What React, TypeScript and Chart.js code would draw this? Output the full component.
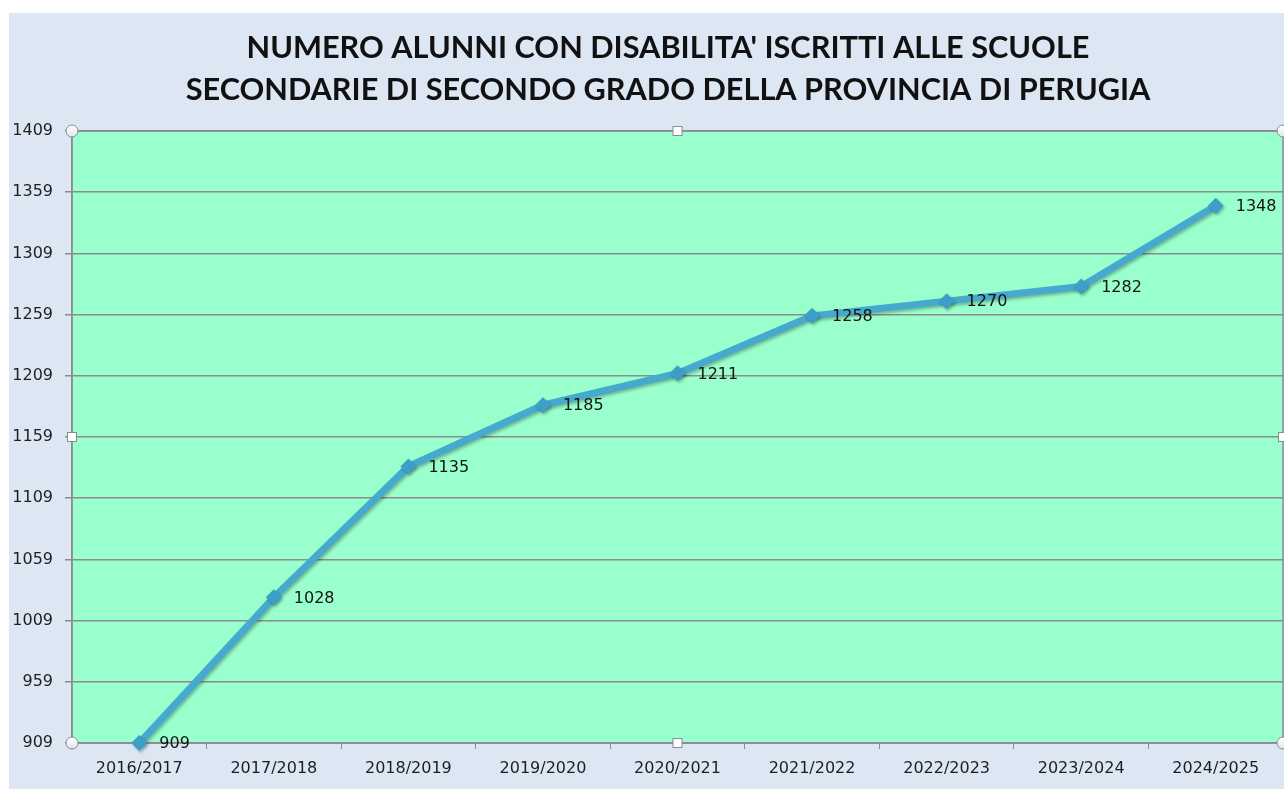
import React, { useEffect, useRef } from 'react';
import { Chart, registerables } from 'chart.js';

Chart.register(...registerables);

const TITLE_LINES = [
  "NUMERO ALUNNI CON DISABILITA' ISCRITTI ALLE SCUOLE",
  'SECONDARIE DI SECONDO GRADO DELLA PROVINCIA DI PERUGIA',
];
const YEARS = ['2016/2017', '2017/2018', '2018/2019', '2019/2020', '2020/2021', '2021/2022', '2022/2023', '2023/2024', '2024/2025'];
const STUDENTS = [909, 1028, 1135, 1185, 1211, 1258, 1270, 1282, 1348];
const Y_MIN = 909;
const Y_MAX = 1409;
const Y_STEP = 50;

const FONT_FAMILY = "'DejaVu Sans', sans-serif";
const PLOT_RIGHT_GAP = 1;

const backgroundPlugin = {
  id: 'bgPlugin',
  afterLayout(chart: any) {
    const ca = chart.chartArea;
    const target = chart.width - PLOT_RIGHT_GAP;
    const xs = chart.scales.x;
    xs.right = target;
    xs.width = target - xs.left;
    xs.configure();
    ca.right = target;
    ca.width = target - ca.left;
  },
  beforeDraw(chart: any) {
    const { ctx, width, height, chartArea } = chart;
    ctx.save();
    ctx.fillStyle = '#ffffff';
    ctx.fillRect(0, 0, width, height);
    ctx.fillStyle = '#dde7f3';
    ctx.fillRect(9, 13, width - 9, height - 13);
    // plot area
    ctx.fillStyle = '#99ffcc';
    ctx.fillRect(chartArea.left, chartArea.top, chartArea.right - chartArea.left, chartArea.bottom - chartArea.top);
    // title
    const maxW = 965;
    let size = 30;
    ctx.font = `bold ${size}px Lato, sans-serif`;
    const w = ctx.measureText(TITLE_LINES[1]).width;
    size = size * maxW / w;
    ctx.font = `bold ${size}px Lato, sans-serif`;
    ctx.fillStyle = '#111111';
    ctx.textAlign = 'center';
    ctx.textBaseline = 'middle';
    ctx.fillText(TITLE_LINES[0], 668, 48);
    ctx.fillText(TITLE_LINES[1], 668, 90);
    ctx.restore();
  },
  beforeDatasetsDraw(chart: any) {
    const { ctx, chartArea } = chart;
    ctx.save();
    ctx.strokeStyle = '#8c8a90';
    ctx.lineWidth = 1.5;
    ctx.strokeRect(chartArea.left, chartArea.top, chartArea.right - chartArea.left, chartArea.bottom - chartArea.top);
    ctx.restore();
  },
  beforeDatasetDraw(chart: any) {
    const ctx = chart.ctx;
    ctx.save();
    ctx.shadowColor = 'rgba(0,0,0,0.28)';
    ctx.shadowBlur = 3;
    ctx.shadowOffsetX = 1.5;
    ctx.shadowOffsetY = 2;
  },
  afterDatasetDraw(chart: any) {
    chart.ctx.restore();
  },
  afterDraw(chart: any) {
    const { ctx, chartArea } = chart;
    const { left, right, top, bottom } = chartArea;
    ctx.save();
    // data labels
    const meta = chart.getDatasetMeta(0);
    ctx.font = `16px ${FONT_FAMILY}`;
    ctx.fillStyle = '#141414';
    ctx.textAlign = 'left';
    ctx.textBaseline = 'middle';
    meta.data.forEach((pt: any, i: number) => {
      ctx.fillText(String(STUDENTS[i]), pt.x + 20, pt.y + 1);
    });
    // selection handles
    ctx.lineWidth = 1;
    ctx.strokeStyle = '#8a8a8a';
    const circ = (x: number, y: number) => {
      const g = ctx.createLinearGradient(x, y - 6, x, y + 6);
      g.addColorStop(0, '#ffffff');
      g.addColorStop(1, '#dfe6ee');
      ctx.fillStyle = g;
      ctx.beginPath();
      ctx.arc(x, y, 6, 0, Math.PI * 2);
      ctx.fill();
      ctx.stroke();
    };
    const sq = (x: number, y: number) => {
      ctx.fillStyle = '#ffffff';
      ctx.fillRect(x - 4.5, y - 4.5, 9, 9);
      ctx.strokeRect(x - 4.5, y - 4.5, 9, 9);
    };
    circ(left, top);
    circ(right, top);
    circ(left, bottom);
    circ(right, bottom);
    const mx = (left + right) / 2;
    const my = (top + bottom) / 2;
    sq(mx, top);
    sq(mx, bottom);
    sq(left, my);
    sq(right, my);
    ctx.restore();
  },
};

export default function App() {
  const canvasRef = useRef<HTMLCanvasElement | null>(null);

  useEffect(() => {
    if (!canvasRef.current) return;
    const chart = new Chart(canvasRef.current, {
      type: 'line',
      data: {
        labels: YEARS,
        datasets: [
          {
            data: STUDENTS,
            borderColor: '#46a9ce',
            backgroundColor: '#3c9fc9',
            borderWidth: 7,
            pointStyle: 'rectRot',
            pointRadius: 8,
            pointBorderWidth: 0,
            pointBackgroundColor: '#3c9fc9',
            tension: 0,
            clip: false as any,
          },
        ],
      },
      options: {
        responsive: false,
        animation: false,
        devicePixelRatio: 1,
        layout: { padding: { top: 131, right: 1, left: 0, bottom: 0 } },
        plugins: {
          legend: { display: false },
          title: { display: false },
          tooltip: { enabled: false },
        },
        scales: {
          x: {
            offset: true,
            grid: {
              offset: true,
              drawOnChartArea: false,
              drawTicks: true,
              tickLength: 6,
              color: '#8c8a90',
            },
            border: { display: true, color: '#8c8a90', width: 1.5 },
            ticks: {
              color: '#1e1e1e',
              font: { family: FONT_FAMILY, size: 16 },
              padding: 10,
              maxRotation: 0,
              autoSkip: false,
            },
            afterFit(scale: any) {
              scale.height = 46;
            },
          },
          y: {
            min: Y_MIN,
            max: Y_MAX,
            grid: {
              color: '#8c8a90',
              lineWidth: 1.5,
              drawTicks: true,
              tickLength: 7,
            },
            border: { display: true, color: '#8c8a90', width: 1.5 },
            ticks: {
              stepSize: Y_STEP,
              color: '#1e1e1e',
              font: { family: FONT_FAMILY, size: 16 },
              padding: 12,
              callback: (v: any) => String(v),
            },
            afterFit(scale: any) {
              scale.width = 72;
            },
          },
        },
      },
      plugins: [backgroundPlugin],
    });
    return () => chart.destroy();
  }, []);

  return (
    <canvas
      ref={canvasRef}
      width={1284}
      height={789}
      style={{ position: 'absolute', left: 0, top: 0, display: 'block', width: 1284, height: 789 }}
    />
  );
}
